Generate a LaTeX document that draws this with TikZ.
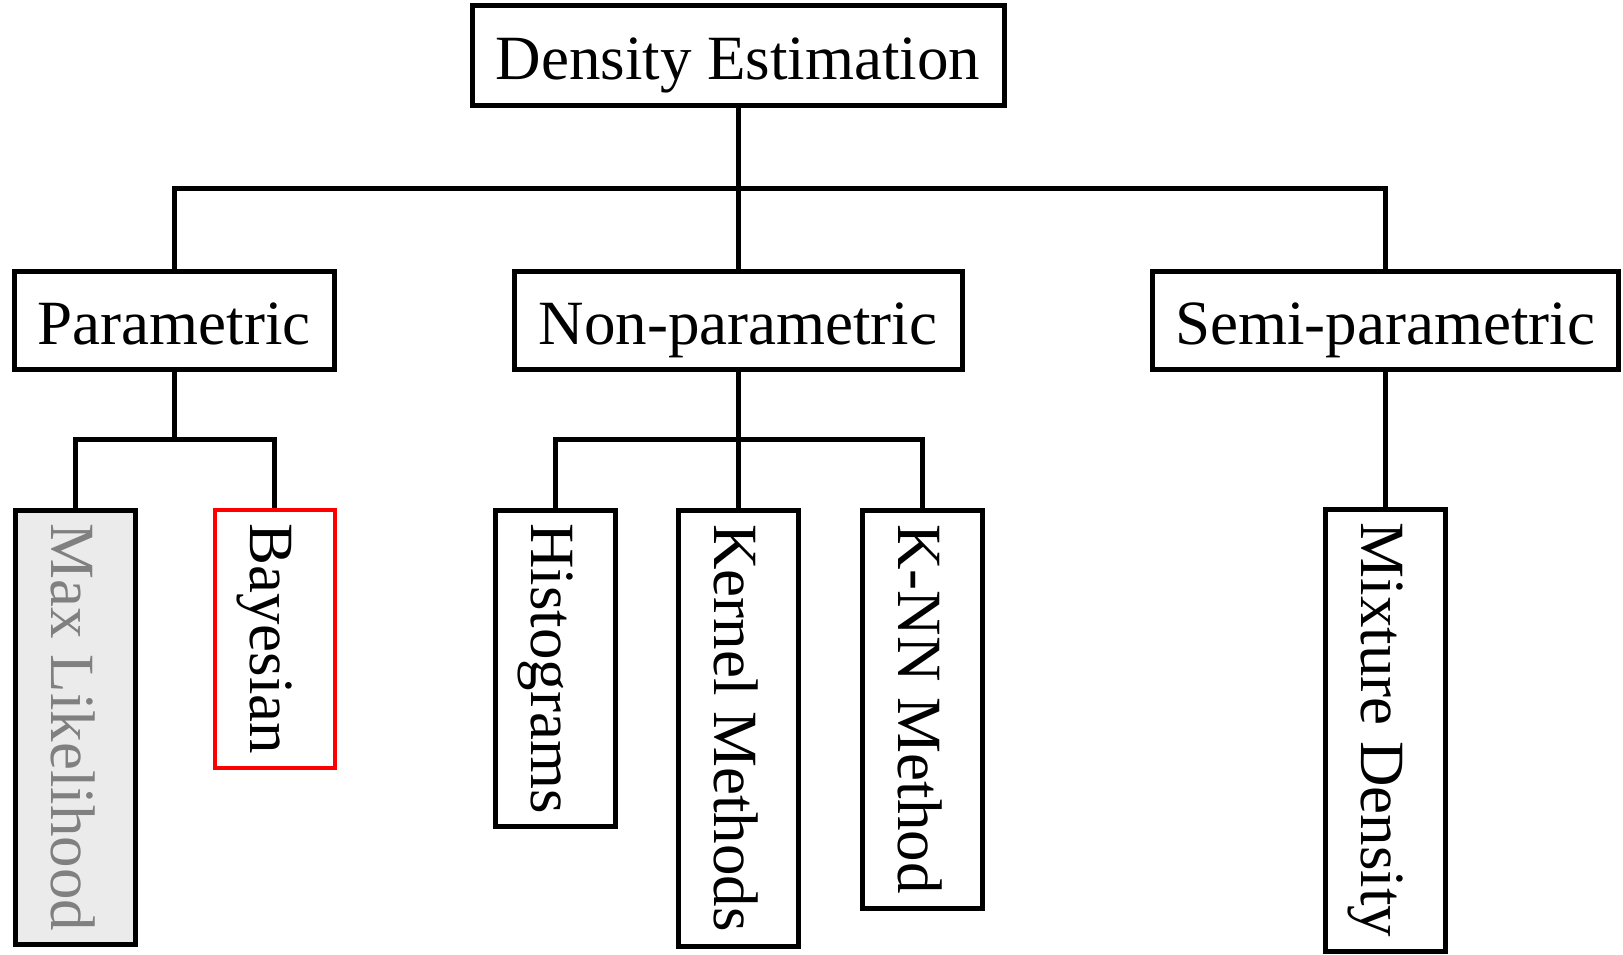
\documentclass[tikz,border=0pt]{standalone}
\usepackage{fontspec}
\setmainfont{Liberation Serif}
\begin{document}
\begin{tikzpicture}[x=0.5pt,y=-0.5pt,
  box/.style={draw=black,line width=2.5pt,inner sep=0pt,text height=31pt,text depth=7pt,font=\fontsize{31.5}{36}\selectfont},
  vbox/.style={box,rotate=-90},
  link/.style={draw=black,line width=2.5pt}]
\useasboundingbox (0,0) rectangle (1623,954);
\node[box,minimum width=266pt,minimum height=50pt] (top) at (738,55.5) {Density Estimation};
\node[box,minimum width=160pt,minimum height=49pt] (param) at (174,320) {Parametric};
\node[box,minimum width=224pt,minimum height=49pt] (nonparam) at (738,320) {Non-parametric};
\node[box,minimum width=233pt,minimum height=49pt] (semi) at (1385,320) {Semi-parametric};
% rotated: minimum width is along the text (vertical), height across
\node[vbox,minimum width=217pt,minimum height=60pt,fill={rgb,255:red,235;green,235;blue,235},text={rgb,255:red,128;green,128;blue,128}] (maxl) at (75,727.5) {Max Likelihood};
\node[vbox,draw={rgb,255:red,255;green,0;blue,0},line width=2pt,minimum width=129pt,minimum height=60pt] (bayes) at (274.5,638.5) {Bayesian};
\node[vbox,minimum width=158pt,minimum height=60pt] (hist) at (555.5,668.5) {Histograms};
\node[vbox,minimum width=218pt,minimum height=60pt] (kernel) at (738,728) {Kernel Methods};
\node[vbox,minimum width=199pt,minimum height=60pt] (knn) at (922.5,709) {K-NN Method};
\node[vbox,minimum width=221pt,minimum height=60pt] (mix) at (1385,730) {Mixture Density};
\coordinate (b1) at (0,188);
\coordinate (b2) at (0,439);
\draw[link] (top.south) -- (nonparam.north);
\draw[link] (param.north) -- (param.north |- b1) -- (semi.north |- b1) -- (semi.north);
\draw[link] (param.south) -- (param.south |- b2);
\draw[link] (maxl.west) -- (maxl.west |- b2) -- (bayes.west |- b2) -- (bayes.west);
\draw[link] (nonparam.south) -- (kernel.west);
\draw[link] (hist.west) -- (hist.west |- b2) -- (knn.west |- b2) -- (knn.west);
\draw[link] (semi.south) -- (mix.west);
\end{tikzpicture}
\end{document}
